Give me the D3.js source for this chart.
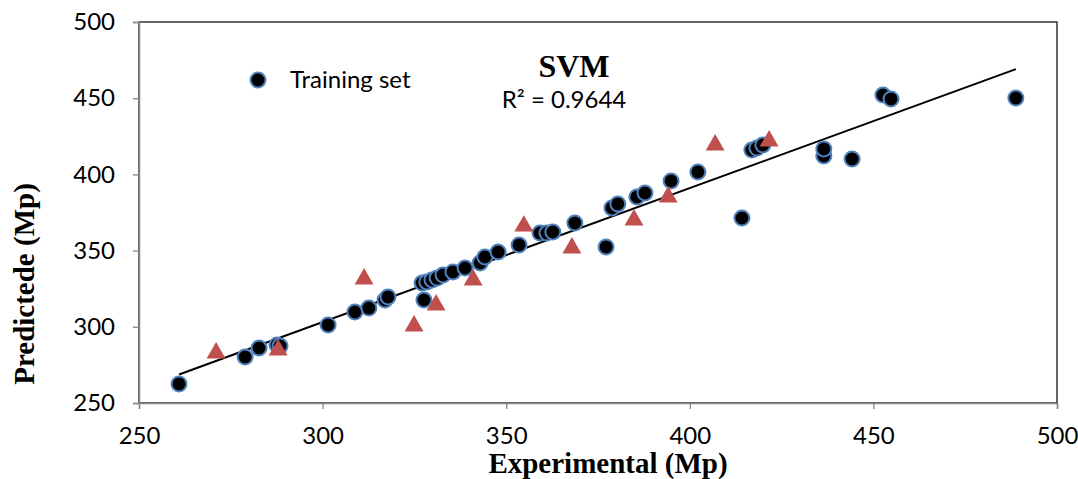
<!DOCTYPE html>
<html>
<head>
<meta charset="utf-8">
<script src="https://cdn.jsdelivr.net/npm/d3@7"></script>
<style>
  html, body { margin: 0; padding: 0; background: #fff; }
  svg { display: block; }
</style>
</head>
<body>
<svg id="chart" width="1078" height="479"></svg>
<script>
// ---- data ----
const trainX = [260.9, 278.9, 282.7, 287.6, 288.4, 301.5, 308.8, 312.6, 317.0, 317.8,
  327.6, 327.1, 328.4, 329.8, 331.2, 332.8, 335.5, 338.8, 342.9,
  344.2, 347.8, 353.5, 359.2, 361.1, 362.7, 368.7, 377.2, 378.8, 380.4,
  385.6, 387.8, 394.9, 402.2, 414.2, 416.9, 418.3, 419.9,
  436.5, 436.5, 444.2, 452.6, 454.8, 488.8];
const trainY = [262.5, 280.2, 286.1, 288.1, 287.4, 301.2, 309.7, 312.3, 317.6, 319.6,
  317.6, 328.7, 329.4, 330.7, 332.0, 334.0, 336.0, 338.6, 341.9,
  345.8, 349.1, 353.7, 361.5, 361.5, 362.2, 368.1, 352.4, 378.0, 380.6,
  385.2, 387.8, 395.7, 401.6, 371.4, 416.0, 417.3, 419.3,
  412.1, 416.7, 410.1, 452.1, 449.5, 450.1];
const testX = [271.0, 287.9, 311.3, 324.9, 330.9, 341.0, 354.8, 367.9, 384.8, 394.1, 406.9, 421.6];
const testY = [282.8, 284.8, 331.4, 300.5, 314.3, 330.7, 366.1, 351.7, 370.1, 385.2, 419.3, 421.9];
const xTicks = [250, 300, 350, 400, 450, 500];
const yTicks = [250, 300, 350, 400, 450, 500];
const titleText = "SVM";
const r2Text = "R² = 0.9644";
const legendLabel = "Training set";
const xLabel = "Experimental (Mp)";
const yLabel = "Predictede (Mp)";

// ---- layout ----
const svg = d3.select("#chart");
const L = 139, R = 1057, T = 22, B = 403;
const x = d3.scaleLinear().domain([250, 500]).range([L, R]);
const y = d3.scaleLinear().domain([250, 500]).range([B, T]);
const sansFont = "Lato, 'Open Sans', sans-serif";
const serifFont = "'Liberation Serif', 'DejaVu Serif', serif";

// plot frame (top/right black)
svg.append("rect").attr("x", L).attr("y", T).attr("width", R - L).attr("height", B - T)
  .attr("fill", "none").attr("stroke", "#000").attr("stroke-width", 1.2);

// axes
const xAxis = svg.append("g").attr("transform", `translate(0,${B})`)
  .call(d3.axisBottom(x).tickValues(xTicks).tickSize(6).tickPadding(18).tickFormat(d3.format("d")));
const yAxis = svg.append("g").attr("transform", `translate(${L},0)`)
  .call(d3.axisLeft(y).tickValues(yTicks).tickSize(6).tickPadding(18).tickFormat(d3.format("d")));
[xAxis, yAxis].forEach(g => {
  g.select(".domain").attr("stroke", "#868686").attr("stroke-width", 1.5);
  g.selectAll(".tick line").attr("stroke", "#868686").attr("stroke-width", 1.3);
  g.selectAll(".tick text").attr("fill", "#000").style("font-family", sansFont).style("font-size", "24px");
});

// trend line (least squares over training set)
const mx = d3.mean(trainX), my = d3.mean(trainY);
const slope = d3.sum(trainX, (d, i) => (d - mx) * (trainY[i] - my)) / d3.sum(trainX, d => (d - mx) * (d - mx));
const icpt = my - slope * mx;
const xMin = d3.min(trainX), xMax = d3.max(trainX);
svg.append("line")
  .attr("x1", x(xMin)).attr("y1", y(icpt + slope * xMin))
  .attr("x2", x(xMax)).attr("y2", y(icpt + slope * xMax))
  .attr("stroke", "#000").attr("stroke-width", 2);

// training points
const train = trainX.map((d, i) => ({ x: d, y: trainY[i] }));
const test = testX.map((d, i) => ({ x: d, y: testY[i] }));
svg.append("g").selectAll("circle").data(train).join("circle")
  .attr("cx", d => x(d.x)).attr("cy", d => y(d.y)).attr("r", 7.5)
  .attr("fill", "#000").attr("stroke", "#4F81BD").attr("stroke-width", 2);

// test points (triangles)
const tri = d3.symbol().type(d3.symbolTriangle).size(155);
svg.append("g").selectAll("path").data(test).join("path")
  .attr("d", tri)
  .attr("transform", d => `translate(${x(d.x)},${y(d.y)})`)
  .attr("fill", "#C0504D");

// legend
svg.append("circle").attr("cx", 258).attr("cy", 80).attr("r", 7.5)
  .attr("fill", "#000").attr("stroke", "#4F81BD").attr("stroke-width", 2);
svg.append("text").attr("x", 290).attr("y", 88).text(legendLabel)
  .style("font-family", sansFont).style("font-size", "24px");

// title & R2
svg.append("text").attr("x", 574).attr("y", 77).attr("text-anchor", "middle").text(titleText)
  .style("font-family", serifFont).style("font-size", "32px").style("font-weight", "bold");
svg.append("text").attr("x", 564).attr("y", 108).attr("text-anchor", "middle").text(r2Text)
  .style("font-family", sansFont).style("font-size", "24px");

// axis titles
svg.append("text").attr("x", 608).attr("y", 473).attr("text-anchor", "middle").text(xLabel)
  .style("font-family", serifFont).style("font-size", "29px").style("font-weight", "bold");
svg.append("text").attr("transform", "translate(34,284) rotate(-90)").attr("text-anchor", "middle").text(yLabel)
  .style("font-family", serifFont).style("font-size", "29px").style("font-weight", "bold");
</script>
</body>
</html>
